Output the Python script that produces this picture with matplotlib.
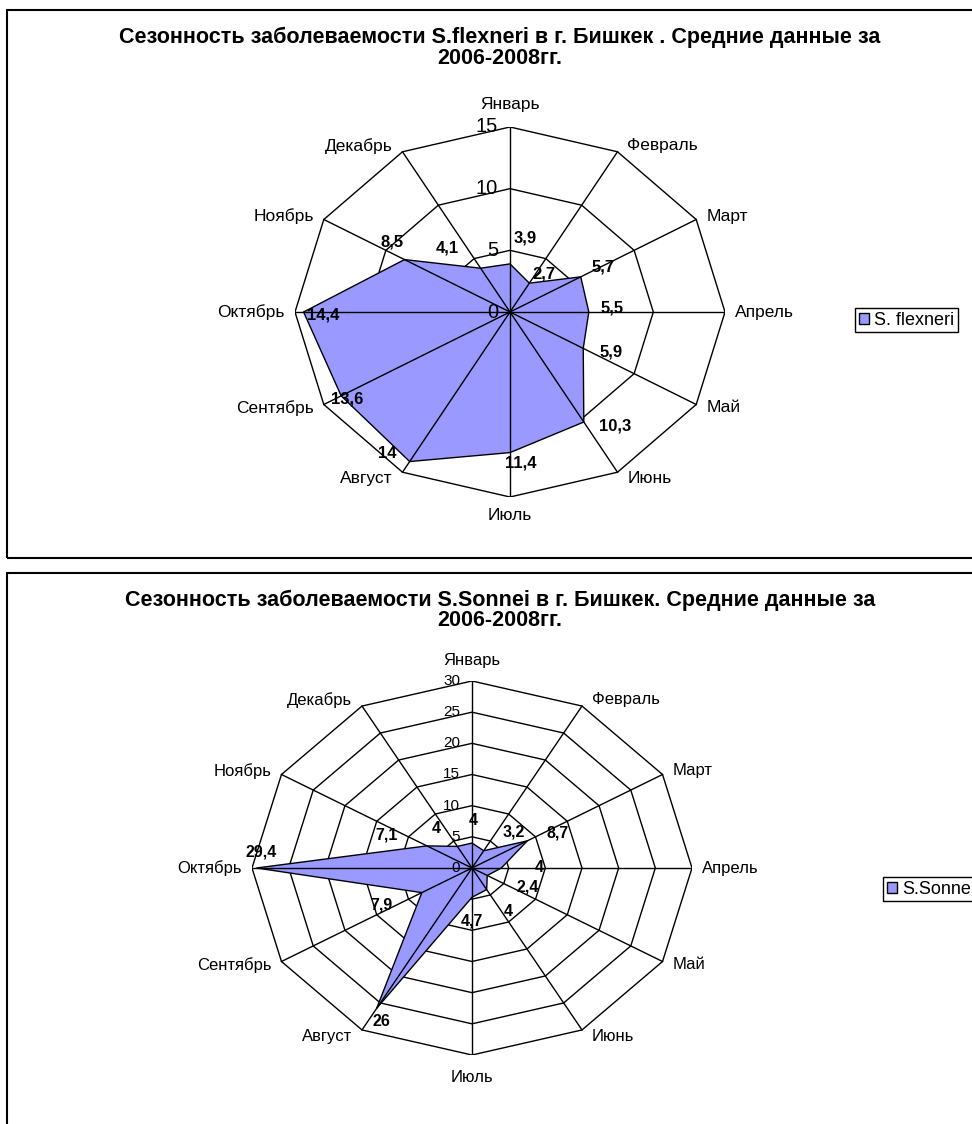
import numpy as np
import matplotlib
matplotlib.use('Agg')
import matplotlib.pyplot as plt
from matplotlib.patches import Rectangle, Polygon

plt.rcParams['font.family'] = ['Liberation Sans', 'DejaVu Sans']

# ---- data ----
months = ['Январь', 'Февраль', 'Март', 'Апрель', 'Май', 'Июнь',
          'Июль', 'Август', 'Сентябрь', 'Октябрь', 'Ноябрь', 'Декабрь']
flexneri = [3.9, 2.7, 5.7, 5.5, 5.9, 10.3, 11.4, 14, 13.6, 14.4, 8.5, 4.1]
sonnei = [4, 3.2, 8.7, 4, 2.4, 4, 4.7, 26, 7.9, 29.4, 7.1, 4]
flexneri_ticks = [0, 5, 10, 15]
sonnei_ticks = [0, 5, 10, 15, 20, 25, 30]
title_flexneri = ['Сезонность заболеваемости S.flexneri в г. Бишкек . Средние данные за',
                  '2006-2008гг.']
title_sonnei = ['Сезонность заболеваемости S.Sonnei в г. Бишкек. Средние данные за',
                '2006-2008гг.']
legend_flexneri = 'S. flexneri'
legend_sonnei = 'S.Sonnei'

# ---- layout helpers (pixels, origin top-left) ----
W, H, DPI = 972, 1124, 100
PT = 72 / DPI
FILL = '#9999FF'

fig = plt.figure(figsize=(W / DPI, H / DPI), dpi=DPI)


def fig_box(x0, y0, x1, y1):
    return [x0 / W, 1 - y1 / H, (x1 - x0) / W, (y1 - y0) / H]


def fmt(v):
    return f'{v:g}'.replace('.', ',')


def radar(cx, cy, rx, ry, values, ticks, value_offsets, tick_size,
          month_size, value_size, top_pad, bottom_pad):
    rmax = ticks[-1]
    ax = fig.add_axes(fig_box(cx - rx, cy - ry, cx + rx, cy + ry))
    ax.set_xlim(-rmax, rmax)
    ax.set_ylim(-rmax, rmax)
    ax.set_axis_off()
    n = len(values)
    theta = 2 * np.pi * np.arange(n) / n
    s, c = np.sin(theta), np.cos(theta)

    for t in ticks[1:]:
        ax.add_patch(Polygon(np.column_stack([t * s, t * c]), closed=True,
                             fill=False, ec='black', lw=1, zorder=1))
    v = np.asarray(values, float)
    poly = Polygon(np.column_stack([v * s, v * c]), closed=True,
                   fc=FILL, ec='black', lw=1, zorder=2)
    ax.add_patch(poly)
    for si, ci in zip(s, c):
        ax.plot([0, rmax * si], [0, rmax * ci], color='black', lw=1, zorder=3)

    for t in ticks:
        ax.annotate(str(t), xy=(0, t), xytext=(-12 * PT, 0),
                    textcoords='offset points', ha='right', va='center',
                    fontsize=tick_size, zorder=4, annotation_clip=False)

    for name, si, ci in zip(months, s, c):
        if abs(si) < 0.01:
            dx, dy, ha = 0, (top_pad if ci > 0 else -bottom_pad), 'center'
        else:
            dx, dy = 10 * np.sign(si), 7 * ci
            ha = 'left' if si > 0 else 'right'
        ax.annotate(name, xy=(rmax * si, rmax * ci), xytext=(dx * PT, dy * PT),
                    textcoords='offset points', ha=ha, va='center',
                    fontsize=month_size, annotation_clip=False)

    for val, si, ci, (dx, dy) in zip(values, s, c, value_offsets):
        ax.annotate(fmt(val), xy=(val * si, val * ci), xytext=(dx * PT, -dy * PT),
                    textcoords='offset points', ha='center', va='center',
                    fontsize=value_size, fontweight='bold', zorder=5,
                    annotation_clip=False)
    return ax, poly


def add_legend(handle, label, x, y):
    leg = fig.legend([handle], [label], loc='upper left',
                     bbox_to_anchor=(x / W, 1 - y / H), fontsize=13,
                     fancybox=False, edgecolor='black', framealpha=1,
                     borderpad=0.2, handlelength=0.55, handleheight=0.55,
                     handletextpad=0.3, borderaxespad=0)
    leg.get_frame().set_linewidth(1)
    return leg


# ---- frames ----
fig.add_artist(Rectangle((7 / W, 1 - 558 / H), (1100 - 7) / W, (558 - 10) / H,
                         transform=fig.transFigure, fill=False, ec='black', lw=1.5))
fig.add_artist(Rectangle((7 / W, 1 - 1200 / H), (1100 - 7) / W, (1200 - 573) / H,
                         transform=fig.transFigure, fill=False, ec='black', lw=1.5))

# ---- chart 1: S. flexneri ----
off1 = [(15, -26), (15, -9), (22, -10), (23, -4), (28, 4), (31, 4),
        (11, 10), (-22, -8), (6, 3), (20, 3), (-12, -18), (-33, -20)]
ax1, poly1 = radar(510, 312, 215, 185, flexneri, flexneri_ticks, off1,
                   tick_size=14.5, month_size=12.5, value_size=12,
                   top_pad=22, bottom_pad=19)
for txt, y in zip(title_flexneri, (37, 58)):
    fig.text(500 / W, 1 - y / H, txt, ha='center', va='center',
             fontsize=15.5, fontweight='bold')
add_legend(poly1, legend_flexneri, 855, 308)

# ---- chart 2: S. sonnei ----
off2 = [(1, -23), (30, -19), (30, -8), (38, 0), (40, 12), (22, 22),
        (0, 24), (5, 13), (-40, 12), (5, -16), (-40, -11), (-21, -18)]
ax2, poly2 = radar(472, 868, 220, 187, sonnei, sonnei_ticks, off2,
                   tick_size=11, month_size=12, value_size=11.5,
                   top_pad=20, bottom_pad=23)
for txt, y in zip(title_sonnei, (600, 621)):
    fig.text(500 / W, 1 - y / H, txt, ha='center', va='center',
             fontsize=15.5, fontweight='bold')
add_legend(poly2, legend_sonnei, 883, 877)

fig.savefig('out.png', dpi=DPI)
